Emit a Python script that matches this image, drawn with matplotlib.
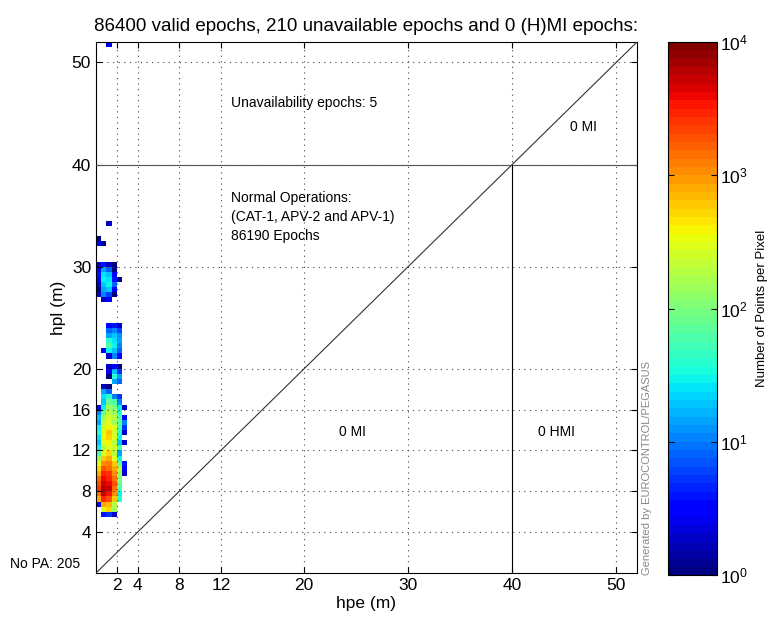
import numpy as np
import matplotlib
matplotlib.use("Agg")
import matplotlib.pyplot as plt
from matplotlib.colors import LogNorm

plt.rcParams['font.family'] = ['Liberation Sans', 'DejaVu Sans']

# ---- data ----
title = "86400 valid epochs, 210 unavailable epochs and 0 (H)MI epochs:"
x_ticks = [2, 4, 8, 12, 20, 30, 40, 50]
y_ticks = [4, 8, 12, 16, 20, 30, 40, 50]
axis_max = 52
alert_limit = 40
bin_size = 0.5
n_cols = 6                    # hpe bins 0 .. 3 m
top_row_low = 32.5            # lower edge of the first row below (rows go downward)

# counts per pixel, rows from hpl 32.5 down to 5.5 m, columns hpe 0..3 m
density_rows = [
    [1, 0, 0, 0, 0, 0],        # 32.5
    [3, 1, 0, 0, 0, 0],        # 32.0
    [0, 0, 0, 0, 0, 0],        # 31.5
    [0, 0, 0, 0, 0, 0],        # 31.0
    [0, 0, 0, 0, 0, 0],        # 30.5
    [2, 4, 2, 1, 0, 0],        # 30.0
    [3, 15, 8, 1, 0, 0],       # 29.5
    [4, 25, 20, 3, 0, 0],      # 29.0
    [3, 30, 25, 4, 1, 0],      # 28.5
    [2, 20, 30, 8, 0, 0],      # 28.0
    [1, 15, 20, 3, 0, 0],      # 27.5
    [2, 10, 6, 1, 0, 0],       # 27.0
    [0, 2, 3, 0, 0, 0],        # 26.5
    [0, 0, 0, 0, 0, 0],        # 26.0
    [0, 0, 0, 0, 0, 0],        # 25.5
    [0, 0, 0, 0, 0, 0],        # 25.0
    [0, 0, 0, 0, 0, 0],        # 24.5
    [0, 0, 3, 4, 2, 0],        # 24.0
    [0, 0, 8, 10, 6, 0],       # 23.5
    [0, 0, 15, 20, 12, 0],     # 23.0
    [0, 0, 40, 25, 15, 0],     # 22.5
    [0, 0, 60, 30, 10, 0],     # 22.0
    [0, 3, 30, 20, 8, 0],      # 21.5
    [0, 0, 2, 10, 3, 0],       # 21.0
    [0, 0, 0, 0, 0, 0],        # 20.5
    [0, 0, 2, 3, 1, 0],        # 20.0
    [0, 0, 3, 20, 5, 0],       # 19.5
    [0, 0, 1, 40, 15, 0],      # 19.0
    [0, 0, 0, 15, 8, 0],       # 18.5
    [0, 2, 1, 0, 0, 0],        # 18.0
    [0, 15, 8, 0, 0, 0],       # 17.5
    [0, 25, 40, 10, 5, 0],     # 17.0
    [0, 20, 80, 60, 10, 0],    # 16.5
    [3, 30, 150, 100, 30, 2],  # 16.0
    [10, 80, 200, 150, 40, 0], # 15.5
    [20, 150, 250, 200, 60, 3],# 15.0
    [15, 200, 300, 150, 80, 10],  # 14.5
    [30, 250, 400, 300, 50, 5],   # 14.0
    [40, 300, 600, 250, 40, 2],   # 13.5
    [25, 400, 500, 300, 30, 0],   # 13.0
    [20, 300, 400, 200, 20, 2],   # 12.5
    [30, 200, 300, 250, 60, 0],   # 12.0
    [60, 300, 500, 200, 15, 0],   # 11.5
    [150, 600, 800, 300, 30, 0],  # 11.0
    [300, 1000, 1200, 600, 80, 4],   # 10.5
    [500, 2000, 1500, 800, 200, 3],  # 10.0
    [800, 3000, 2500, 1000, 150, 2], # 9.5
    [1500, 4000, 3000, 1500, 100, 0],# 9.0
    [2000, 5000, 4000, 2000, 80, 0], # 8.5
    [2500, 6000, 5000, 1500, 60, 0], # 8.0
    [1500, 5000, 3500, 1000, 30, 0], # 7.5
    [800, 3000, 2000, 600, 40, 0],   # 7.0
    [3, 800, 700, 200, 0, 0],        # 6.5
    [0, 300, 500, 150, 0, 0],        # 6.0
    [0, 4, 5, 2, 0, 0],              # 5.5
]
# isolated pixels (hpe, hpl, count)
outlier_hpe = [1.25, 1.25]
outlier_hpl = [34.25, 51.75]
outlier_count = [2, 3]

# ---- build full grid ----
n_rows_full = int(axis_max / bin_size)
grid = np.zeros((n_rows_full, n_cols))
for i, row in enumerate(density_rows):
    ylow = top_row_low - i * bin_size
    r = int(round(ylow / bin_size))
    grid[r, :] = row
for hx, hy, c in zip(outlier_hpe, outlier_hpl, outlier_count):
    grid[int(hy // bin_size), int(hx // bin_size)] = c
x_edges = np.arange(n_cols + 1) * bin_size
y_edges = np.arange(n_rows_full + 1) * bin_size
masked = np.ma.masked_less_equal(grid, 0)

# ---- figure ----
fig = plt.figure(figsize=(7.68, 6.24), dpi=100)
ax = fig.add_axes([96/768, 1 - 573/624, 541/768, 531/624])
cmap = plt.get_cmap('jet', 64)
norm = LogNorm(vmin=1, vmax=1e4)
mesh = ax.pcolormesh(x_edges, y_edges, masked, cmap=cmap, norm=norm, zorder=2)

lw = 0.8
ax.plot([0, axis_max], [0, axis_max], color='#333333', lw=lw, zorder=3)
ax.plot([0, axis_max], [alert_limit, alert_limit], color='#555555', lw=lw, zorder=3)
ax.plot([alert_limit, alert_limit], [0, alert_limit], color='black', lw=lw, zorder=3)

ax.set_xlim(0, axis_max)
ax.set_ylim(0, axis_max)
ax.set_xticks(x_ticks)
ax.set_yticks(y_ticks)
ax.tick_params(direction='in', top=True, right=True, labelsize=12.5, length=4)
ax.grid(True, linestyle=(0, (1, 4)), color='#444444', lw=0.8)
ax.set_axisbelow(False)
for s in ax.spines.values():
    s.set_linewidth(0.8)

ax.set_xlabel('hpe (m)', fontsize=12.5, labelpad=2)
ax.set_ylabel('hpl (m)', fontsize=12.5, labelpad=4)
ax.set_title(title, fontsize=13.5, pad=8)

fs = 10
ax.text(13.0, 46.0, 'Unavailability epochs: 5', fontsize=fs, va='center')
ax.text(45.6, 43.7, '0 MI', fontsize=fs, va='center')
ax.text(13.0, 34.9, 'Normal Operations:\n(CAT-1, APV-2 and APV-1)\n86190 Epochs',
        fontsize=fs, va='center', linespacing=1.45)
ax.text(24.7, 13.8, '0 MI', fontsize=fs, va='center', ha='center')
ax.text(44.3, 13.8, '0 HMI', fontsize=fs, va='center', ha='center')
ax.text(-1.5, 0.9, 'No PA: 205', fontsize=fs, va='center', ha='right')

fig.text(647/768, 1 - 575/624, 'Generated by EUROCONTROL/PEGASUS', rotation=90,
         color='#888888', fontsize=8, ha='center', va='bottom')

cax = fig.add_axes([668/768, 1 - 575/624, 49/768, 533/624])
cb = fig.colorbar(mesh, cax=cax)
cb.set_ticks([1, 10, 100, 1000, 10000])
cb.ax.tick_params(which='both', direction='in', left=True, right=True, labelsize=12.5,
                  length=4, pad=2)
cb.ax.tick_params(which='minor', length=0)
cb.outline.set_linewidth(0.8)
cb.set_label('Number of Points per Pixel', fontsize=9.5, labelpad=6)

fig.savefig('out.png', dpi=100)
